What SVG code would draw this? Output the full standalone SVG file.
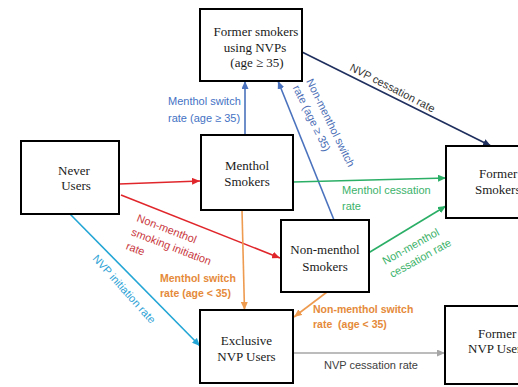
<svg xmlns="http://www.w3.org/2000/svg" width="518" height="387" viewBox="0 0 518 387">
  <style>
    .box { fill: #ffffff; stroke: #000000; stroke-width: 2; }
    .node { font-family: "Liberation Serif", "Times New Roman", serif; font-size: 13px; fill: #1a1a1a; text-anchor: middle; }
    .nodel { font-family: "Liberation Serif", "Times New Roman", serif; font-size: 13px; fill: #1a1a1a; }
    .lbl { font-family: "Liberation Sans", Arial, sans-serif; font-size: 11px; }
    .bold { font-weight: bold; font-size: 10.5px; }
    .edge { fill: none; stroke-width: 1.6; }
    .red { stroke: #e0262b; marker-end: url(#ah-red); }
    .cyan { stroke: #23a6d5; marker-end: url(#ah-cyan); }
    .orange { stroke: #ee9a4f; marker-end: url(#ah-orange); }
    .blue { stroke: #4a72bd; marker-end: url(#ah-blue); }
    .navy { stroke: #1f2f5e; marker-end: url(#ah-navy); }
    .green { stroke: #2bae66; marker-end: url(#ah-green); }
    .gray { stroke: #a6a6a6; marker-end: url(#ah-gray); }
  </style>
  <defs>
    <marker id="ah-red" viewBox="0 0 8 7" refX="8" refY="3.5" markerWidth="8" markerHeight="7" markerUnits="userSpaceOnUse" orient="auto"><path d="M0,0 L8,3.5 L0,7 z" fill="#e0262b"/></marker>
    <marker id="ah-cyan" viewBox="0 0 8 7" refX="8" refY="3.5" markerWidth="8" markerHeight="7" markerUnits="userSpaceOnUse" orient="auto"><path d="M0,0 L8,3.5 L0,7 z" fill="#23a6d5"/></marker>
    <marker id="ah-orange" viewBox="0 0 8 7" refX="8" refY="3.5" markerWidth="8" markerHeight="7" markerUnits="userSpaceOnUse" orient="auto"><path d="M0,0 L8,3.5 L0,7 z" fill="#ee9a4f"/></marker>
    <marker id="ah-blue" viewBox="0 0 8 7" refX="8" refY="3.5" markerWidth="8" markerHeight="7" markerUnits="userSpaceOnUse" orient="auto"><path d="M0,0 L8,3.5 L0,7 z" fill="#4a72bd"/></marker>
    <marker id="ah-navy" viewBox="0 0 8 7" refX="8" refY="3.5" markerWidth="8" markerHeight="7" markerUnits="userSpaceOnUse" orient="auto"><path d="M0,0 L8,3.5 L0,7 z" fill="#1f2f5e"/></marker>
    <marker id="ah-green" viewBox="0 0 8 7" refX="8" refY="3.5" markerWidth="8" markerHeight="7" markerUnits="userSpaceOnUse" orient="auto"><path d="M0,0 L8,3.5 L0,7 z" fill="#2bae66"/></marker>
    <marker id="ah-gray" viewBox="0 0 8 7" refX="8" refY="3.5" markerWidth="8" markerHeight="7" markerUnits="userSpaceOnUse" orient="auto"><path d="M0,0 L8,3.5 L0,7 z" fill="#a6a6a6"/></marker>
  </defs>
  <rect width="518" height="387" fill="#ffffff"/>

  <!-- transitions between states -->
  <g id="connectors">
    <line class="edge red" x1="119" y1="184" x2="200" y2="181"/>
    <line class="edge red" x1="121" y1="195" x2="280" y2="258"/>
    <line class="edge cyan" x1="70" y1="214" x2="200" y2="346"/>
    <line class="edge orange" x1="242" y1="210" x2="244.5" y2="310"/>
    <line class="edge orange" x1="327" y1="292" x2="294" y2="317"/>
    <line class="edge blue" x1="245" y1="135" x2="245" y2="81"/>
    <line class="edge blue" x1="334" y1="220" x2="278" y2="81"/>
    <line class="edge navy" x1="302" y1="52" x2="491" y2="146"/>
    <line class="edge green" x1="293" y1="182" x2="446" y2="178"/>
    <line class="edge green" x1="365" y1="255" x2="446" y2="206"/>
    <line class="edge gray" x1="293" y1="353" x2="445" y2="353"/>

    <!-- transition labels -->
    <g class="lbl" fill="#4472c4">
      <text x="168" y="105">Menthol switch</text>
      <text x="168" y="122">rate (age ≥ 35)</text>
    </g>
    <g class="lbl" fill="#4a6db5" transform="translate(306,81) rotate(64)">
      <text x="0" y="0">Non-menthol switch</text>
      <text x="0" y="15">rate (age ≥ 35)</text>
    </g>
    <text class="lbl" fill="#333333" transform="translate(349,70) rotate(27)">NVP cessation rate</text>
    <g class="lbl" fill="#c9383e" transform="translate(136,221) rotate(21)">
      <text x="0" y="0">Non-menthol</text>
      <text x="0" y="15">smoking initiation</text>
      <text x="0" y="30">rate</text>
    </g>
    <text class="lbl" fill="#2fa3d6" transform="translate(92,259) rotate(48)">NVP initiation rate</text>
    <g class="lbl bold" fill="#e58a3a">
      <text x="160" y="282">Menthol switch</text>
      <text x="160" y="297">rate (age &lt; 35)</text>
      <text x="313" y="313">Non-menthol switch</text>
      <text x="313" y="328" xml:space="preserve">rate  (age &lt; 35)</text>
    </g>
    <g class="lbl" fill="#3bb26a">
      <text x="342" y="194">Menthol cessation</text>
      <text x="342" y="210">rate</text>
    </g>
    <g class="lbl" fill="#3bb26a" transform="translate(385,265) rotate(-29)">
      <text x="0" y="0">Non-menthol</text>
      <text x="0" y="15">cessation rate</text>
    </g>
    <text class="lbl" fill="#404040" x="324" y="369">NVP cessation rate</text>
  </g>

  <g id="former-smokers-nvp">
    <rect class="box" x="200" y="9" width="102" height="72"/>
    <text class="node" x="256" y="36">Former smokers</text>
    <text class="node" x="255" y="52">using NVPs</text>
    <text class="node" x="257" y="67">(age ≥ 35)</text>
  </g>
  <g id="never-users">
    <rect class="box" x="21" y="141" width="98" height="73"/>
    <text class="node" x="74" y="175">Never</text>
    <text class="node" x="76" y="190">Users</text>
  </g>
  <g id="menthol-smokers">
    <rect class="box" x="201" y="135" width="92" height="75"/>
    <text class="node" x="247" y="170">Menthol</text>
    <text class="node" x="247" y="186">Smokers</text>
  </g>
  <g id="non-menthol-smokers">
    <rect class="box" x="281" y="220" width="88" height="72"/>
    <text class="node" x="325" y="254">Non-menthol</text>
    <text class="node" x="325" y="271">Smokers</text>
  </g>
  <g id="former-smokers">
    <rect class="box" x="446" y="146" width="90" height="72"/>
    <text class="nodel" x="479" y="178">Former</text>
    <text class="nodel" x="475" y="194">Smokers</text>
  </g>
  <g id="exclusive-nvp-users">
    <rect class="box" x="200" y="310" width="93" height="73"/>
    <text class="node" x="246.5" y="345">Exclusive</text>
    <text class="node" x="246.5" y="361">NVP Users</text>
  </g>
  <g id="former-nvp-users">
    <rect class="box" x="445" y="306" width="90" height="78"/>
    <text class="nodel" x="478" y="338">Former</text>
    <text class="nodel" x="468" y="353">NVP Users</text>
  </g>
</svg>
